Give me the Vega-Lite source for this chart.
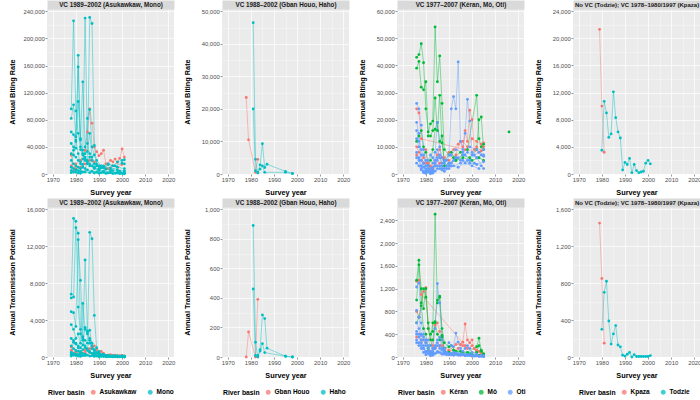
{
"$schema":"https://vega.github.io/schema/vega-lite/v6.json",
"padding":{"left":8,"top":1,"right":0,"bottom":0},
"spacing":8,
"resolve":{"scale":{"color":"independent"}},
"config":{
 "font":"Liberation Sans",
 "view":{"fill":"#EBEBEB","stroke":null},
 "axis":{"gridColor":"#FFFFFF","domain":false,"tickColor":"#333333","tickSize":2,"tickWidth":0.5,"labelColor":"#4D4D4D","labelFontSize":5.9,"labelPadding":0.8,"titleFontSize":7.3,"titleFontWeight":"bold","titleColor":"#000000"},
 "legend":{"titleFontSize":6.8,"titleFontWeight":"bold","titleColor":"#000000","labelFontSize":6.5,"labelFontWeight":"bold","labelColor":"#000000","symbolSize":12,"symbolType":"circle","columnPadding":8,"labelOffset":3,"titlePadding":5}
},
"datasets":{
"d1":[
{"b":"Asukawkaw","s":"A1","y":1978,"a":28000,"t":1100},{"b":"Asukawkaw","s":"A1","y":1979,"a":5000,"t":300},{"b":"Asukawkaw","s":"A1","y":1980,"a":15000,"t":600},{"b":"Asukawkaw","s":"A1","y":1982,"a":20000,"t":500},{"b":"Asukawkaw","s":"A1","y":1984,"a":35000,"t":700},{"b":"Asukawkaw","s":"A1","y":1985,"a":62000,"t":800},{"b":"Asukawkaw","s":"A1","y":1986,"a":96000,"t":900},{"b":"Asukawkaw","s":"A1","y":1987,"a":75000,"t":1000},{"b":"Asukawkaw","s":"A1","y":1988,"a":40000,"t":1200},{"b":"Asukawkaw","s":"A1","y":1989,"a":33000,"t":800},{"b":"Asukawkaw","s":"A1","y":1990,"a":27000,"t":500},{"b":"Asukawkaw","s":"A1","y":1991,"a":30000,"t":600},{"b":"Asukawkaw","s":"A1","y":1992,"a":35000,"t":400},{"b":"Asukawkaw","s":"A1","y":1993,"a":15000,"t":200},{"b":"Asukawkaw","s":"A1","y":1995,"a":20000,"t":250},{"b":"Asukawkaw","s":"A1","y":1996,"a":18000,"t":150},{"b":"Asukawkaw","s":"A1","y":1997,"a":22000,"t":200},{"b":"Asukawkaw","s":"A1","y":1998,"a":17000,"t":120},{"b":"Asukawkaw","s":"A1","y":1999,"a":23000,"t":150},{"b":"Asukawkaw","s":"A1","y":2000,"a":37000,"t":180},{"b":"Asukawkaw","s":"A1","y":2001,"a":25000,"t":100},
{"b":"Asukawkaw","s":"A2","y":1978,"a":12000,"t":700},{"b":"Asukawkaw","s":"A2","y":1980,"a":8000,"t":400},{"b":"Asukawkaw","s":"A2","y":1982,"a":10000,"t":300},{"b":"Asukawkaw","s":"A2","y":1984,"a":15000,"t":400},{"b":"Asukawkaw","s":"A2","y":1986,"a":20000,"t":500},{"b":"Asukawkaw","s":"A2","y":1988,"a":18000,"t":300},{"b":"Asukawkaw","s":"A2","y":1990,"a":12000,"t":200},{"b":"Asukawkaw","s":"A2","y":1992,"a":10000,"t":150},{"b":"Asukawkaw","s":"A2","y":1994,"a":8000,"t":100},{"b":"Asukawkaw","s":"A2","y":1996,"a":12000,"t":120},{"b":"Asukawkaw","s":"A2","y":1998,"a":10000,"t":80},{"b":"Asukawkaw","s":"A2","y":2000,"a":14000,"t":100},
{"b":"Mono","s":"M1","y":1978,"a":96000,"t":6800},{"b":"Mono","s":"M1","y":1979,"a":226000,"t":15000},{"b":"Mono","s":"M1","y":1980,"a":93000,"t":14700},{"b":"Mono","s":"M1","y":1981,"a":60000,"t":5400},{"b":"Mono","s":"M1","y":1982,"a":40000,"t":2500},{"b":"Mono","s":"M1","y":1983,"a":30000,"t":1800},{"b":"Mono","s":"M1","y":1984,"a":22000,"t":1200},{"b":"Mono","s":"M1","y":1985,"a":18000,"t":900},{"b":"Mono","s":"M1","y":1986,"a":12000,"t":600},{"b":"Mono","s":"M1","y":1988,"a":9000,"t":300},{"b":"Mono","s":"M1","y":1990,"a":6000,"t":150},{"b":"Mono","s":"M1","y":1992,"a":4000,"t":80},{"b":"Mono","s":"M1","y":1995,"a":3000,"t":40},{"b":"Mono","s":"M1","y":1998,"a":2500,"t":30},{"b":"Mono","s":"M1","y":2001,"a":2000,"t":20},
{"b":"Mono","s":"M2","y":1978,"a":82000,"t":6400},{"b":"Mono","s":"M2","y":1979,"a":102000,"t":6500},{"b":"Mono","s":"M2","y":1980,"a":55000,"t":14000},{"b":"Mono","s":"M2","y":1981,"a":175000,"t":13400},{"b":"Mono","s":"M2","y":1982,"a":50000,"t":3000},{"b":"Mono","s":"M2","y":1983,"a":35000,"t":2000},{"b":"Mono","s":"M2","y":1984,"a":230000,"t":10500},{"b":"Mono","s":"M2","y":1985,"a":45000,"t":2800},{"b":"Mono","s":"M2","y":1986,"a":30000,"t":1500},{"b":"Mono","s":"M2","y":1987,"a":20000,"t":900},{"b":"Mono","s":"M2","y":1989,"a":12000,"t":400},{"b":"Mono","s":"M2","y":1991,"a":9000,"t":200},{"b":"Mono","s":"M2","y":1993,"a":7000,"t":100},{"b":"Mono","s":"M2","y":1996,"a":5000,"t":60},{"b":"Mono","s":"M2","y":1999,"a":4000,"t":40},{"b":"Mono","s":"M2","y":2001,"a":3000,"t":30},
{"b":"Mono","s":"M3","y":1978,"a":62000,"t":4900},{"b":"Mono","s":"M3","y":1979,"a":58000,"t":4800},{"b":"Mono","s":"M3","y":1980,"a":48000,"t":3300},{"b":"Mono","s":"M3","y":1981,"a":158000,"t":12700},{"b":"Mono","s":"M3","y":1982,"a":36000,"t":8300},{"b":"Mono","s":"M3","y":1983,"a":28000,"t":2200},{"b":"Mono","s":"M3","y":1984,"a":20000,"t":1800},{"b":"Mono","s":"M3","y":1985,"a":15000,"t":1500},{"b":"Mono","s":"M3","y":1986,"a":231000,"t":13500},{"b":"Mono","s":"M3","y":1987,"a":222000,"t":12800},{"b":"Mono","s":"M3","y":1988,"a":42000,"t":4500},{"b":"Mono","s":"M3","y":1989,"a":15000,"t":1000},{"b":"Mono","s":"M3","y":1990,"a":12000,"t":600},{"b":"Mono","s":"M3","y":1992,"a":10000,"t":300},{"b":"Mono","s":"M3","y":1994,"a":15000,"t":200},{"b":"Mono","s":"M3","y":1996,"a":12000,"t":150},{"b":"Mono","s":"M3","y":1998,"a":18000,"t":150},{"b":"Mono","s":"M3","y":2000,"a":20000,"t":120},{"b":"Mono","s":"M3","y":2001,"a":21000,"t":100},
{"b":"Mono","s":"M4","y":1978,"a":45000,"t":3500},{"b":"Mono","s":"M4","y":1979,"a":40000,"t":3000},{"b":"Mono","s":"M4","y":1980,"a":38000,"t":2000},{"b":"Mono","s":"M4","y":1981,"a":107000,"t":2500},{"b":"Mono","s":"M4","y":1982,"a":52000,"t":1500},{"b":"Mono","s":"M4","y":1983,"a":136000,"t":5800},{"b":"Mono","s":"M4","y":1984,"a":40000,"t":3000},{"b":"Mono","s":"M4","y":1985,"a":33000,"t":2500},{"b":"Mono","s":"M4","y":1986,"a":60000,"t":2900},{"b":"Mono","s":"M4","y":1987,"a":25000,"t":1200},{"b":"Mono","s":"M4","y":1988,"a":15000,"t":700},{"b":"Mono","s":"M4","y":1990,"a":11000,"t":400},{"b":"Mono","s":"M4","y":1992,"a":9000,"t":250},{"b":"Mono","s":"M4","y":1994,"a":14000,"t":180},{"b":"Mono","s":"M4","y":1997,"a":12000,"t":120},{"b":"Mono","s":"M4","y":2000,"a":16000,"t":90},{"b":"Mono","s":"M4","y":2001,"a":15000,"t":80},
{"b":"Mono","s":"M5","y":1978,"a":30000,"t":2000},{"b":"Mono","s":"M5","y":1979,"a":28000,"t":1600},{"b":"Mono","s":"M5","y":1980,"a":25000,"t":1400},{"b":"Mono","s":"M5","y":1981,"a":20000,"t":1200},{"b":"Mono","s":"M5","y":1982,"a":18000,"t":1000},{"b":"Mono","s":"M5","y":1983,"a":22000,"t":1300},{"b":"Mono","s":"M5","y":1984,"a":30000,"t":3200},{"b":"Mono","s":"M5","y":1985,"a":82000,"t":2700},{"b":"Mono","s":"M5","y":1986,"a":95000,"t":2000},{"b":"Mono","s":"M5","y":1987,"a":40000,"t":1500},{"b":"Mono","s":"M5","y":1988,"a":28000,"t":800},{"b":"Mono","s":"M5","y":1989,"a":20000,"t":500},{"b":"Mono","s":"M5","y":1991,"a":12000,"t":250},{"b":"Mono","s":"M5","y":1993,"a":8000,"t":150},{"b":"Mono","s":"M5","y":1995,"a":6000,"t":100},{"b":"Mono","s":"M5","y":1998,"a":10000,"t":80},{"b":"Mono","s":"M5","y":2001,"a":8000,"t":50},
{"b":"Mono","s":"M6","y":1978,"a":20000,"t":1200},{"b":"Mono","s":"M6","y":1979,"a":15000,"t":900},{"b":"Mono","s":"M6","y":1980,"a":12000,"t":700},{"b":"Mono","s":"M6","y":1981,"a":10000,"t":600},{"b":"Mono","s":"M6","y":1982,"a":8000,"t":400},{"b":"Mono","s":"M6","y":1983,"a":14000,"t":800},{"b":"Mono","s":"M6","y":1984,"a":25000,"t":1000},{"b":"Mono","s":"M6","y":1985,"a":20000,"t":700},{"b":"Mono","s":"M6","y":1986,"a":15000,"t":500},{"b":"Mono","s":"M6","y":1987,"a":12000,"t":400},{"b":"Mono","s":"M6","y":1988,"a":8000,"t":300},{"b":"Mono","s":"M6","y":1990,"a":5000,"t":150},{"b":"Mono","s":"M6","y":1992,"a":3000,"t":80},{"b":"Mono","s":"M6","y":1995,"a":2000,"t":40},{"b":"Mono","s":"M6","y":1998,"a":1500,"t":30},{"b":"Mono","s":"M6","y":2001,"a":1200,"t":20},
{"b":"Mono","s":"M7","y":1978,"a":10000,"t":500},{"b":"Mono","s":"M7","y":1979,"a":8000,"t":400},{"b":"Mono","s":"M7","y":1980,"a":6000,"t":300},{"b":"Mono","s":"M7","y":1981,"a":5000,"t":250},{"b":"Mono","s":"M7","y":1982,"a":4000,"t":200},{"b":"Mono","s":"M7","y":1983,"a":3000,"t":150},{"b":"Mono","s":"M7","y":1985,"a":6000,"t":200},{"b":"Mono","s":"M7","y":1987,"a":4000,"t":150},{"b":"Mono","s":"M7","y":1989,"a":3000,"t":100},{"b":"Mono","s":"M7","y":1991,"a":2000,"t":60},{"b":"Mono","s":"M7","y":1994,"a":1500,"t":40},{"b":"Mono","s":"M7","y":1997,"a":1000,"t":20},{"b":"Mono","s":"M7","y":2000,"a":800,"t":10},
{"b":"Mono","s":"M8","y":1978,"a":5000,"t":300},{"b":"Mono","s":"M8","y":1979,"a":35000,"t":1800},{"b":"Mono","s":"M8","y":1980,"a":50000,"t":1500},{"b":"Mono","s":"M8","y":1981,"a":30000,"t":1000},{"b":"Mono","s":"M8","y":1982,"a":15000,"t":600},{"b":"Mono","s":"M8","y":1983,"a":10000,"t":400},{"b":"Mono","s":"M8","y":1984,"a":8000,"t":300},{"b":"Mono","s":"M8","y":1986,"a":25000,"t":1800},{"b":"Mono","s":"M8","y":1988,"a":10000,"t":500},{"b":"Mono","s":"M8","y":1990,"a":7000,"t":200},{"b":"Mono","s":"M8","y":1992,"a":12000,"t":150},{"b":"Mono","s":"M8","y":1995,"a":9000,"t":100},{"b":"Mono","s":"M8","y":1998,"a":6000,"t":60},{"b":"Mono","s":"M8","y":2001,"a":5000,"t":40},
{"b":"Mono","s":"M9","y":1978,"a":2000,"t":100},{"b":"Mono","s":"M9","y":1979,"a":3000,"t":200},{"b":"Mono","s":"M9","y":1980,"a":2500,"t":150},{"b":"Mono","s":"M9","y":1981,"a":1500,"t":100},{"b":"Mono","s":"M9","y":1982,"a":1000,"t":60},{"b":"Mono","s":"M9","y":1984,"a":3000,"t":150},{"b":"Mono","s":"M9","y":1986,"a":2000,"t":100},{"b":"Mono","s":"M9","y":1988,"a":1500,"t":60},{"b":"Mono","s":"M9","y":1990,"a":1000,"t":30},{"b":"Mono","s":"M9","y":1993,"a":800,"t":20},{"b":"Mono","s":"M9","y":1996,"a":600,"t":10},{"b":"Mono","s":"M9","y":1999,"a":500,"t":10},{"b":"Mono","s":"M9","y":2001,"a":400,"t":5}
],
"d2":[
{"b":"Gban Houo","s":"G1","y":1978,"a":23500,"t":0},{"b":"Gban Houo","s":"G1","y":1979,"a":10500,"t":170},{"b":"Gban Houo","s":"G1","y":1982,"a":500,"t":0},{"b":"Gban Houo","s":"G1","y":1983,"a":4500,"t":390},
{"b":"Haho","s":"H1","y":1981,"a":46500,"t":890},{"b":"Haho","s":"H1","y":1982,"a":4500,"t":100},{"b":"Haho","s":"H1","y":1983,"a":300,"t":0},{"b":"Haho","s":"H1","y":1984,"a":2800,"t":50},{"b":"Haho","s":"H1","y":1985,"a":9300,"t":285},{"b":"Haho","s":"H1","y":1986,"a":2000,"t":260},{"b":"Haho","s":"H1","y":1987,"a":3000,"t":60},{"b":"Haho","s":"H1","y":1995,"a":800,"t":5},{"b":"Haho","s":"H1","y":1998,"a":200,"t":0},
{"b":"Haho","s":"H2","y":1981,"a":20000,"t":460},{"b":"Haho","s":"H2","y":1982,"a":1000,"t":10},{"b":"Haho","s":"H2","y":1983,"a":500,"t":10},{"b":"Haho","s":"H2","y":1984,"a":1500,"t":40},{"b":"Haho","s":"H2","y":1985,"a":2500,"t":90},{"b":"Haho","s":"H2","y":1986,"a":500,"t":30},{"b":"Haho","s":"H2","y":1995,"a":500,"t":5},{"b":"Haho","s":"H2","y":1998,"a":100,"t":0}
],
"d3":[
{"b":"Kéran","s":"K1","y":1976,"a":24000,"t":1330},{"b":"Kéran","s":"K1","y":1977,"a":22500,"t":1350},{"b":"Kéran","s":"K1","y":1978,"a":13000,"t":1100},{"b":"Kéran","s":"K1","y":1997,"a":9000,"t":200},{"b":"Kéran","s":"K1","y":2003,"a":8000,"t":100},{"b":"Kéran","s":"K1","y":2005,"a":11500,"t":30},
{"b":"Kéran","s":"K2","y":1976,"a":10000,"t":800},{"b":"Kéran","s":"K2","y":1977,"a":8000,"t":700},{"b":"Kéran","s":"K2","y":1979,"a":6000,"t":1150},{"b":"Kéran","s":"K2","y":1980,"a":9000,"t":1220},{"b":"Kéran","s":"K2","y":1981,"a":4000,"t":500},{"b":"Kéran","s":"K2","y":1982,"a":3000,"t":300},{"b":"Kéran","s":"K2","y":1983,"a":2000,"t":200},{"b":"Kéran","s":"K2","y":1984,"a":5000,"t":560},{"b":"Kéran","s":"K2","y":1985,"a":7000,"t":600},{"b":"Kéran","s":"K2","y":1986,"a":9000,"t":450},{"b":"Kéran","s":"K2","y":1987,"a":6000,"t":200},{"b":"Kéran","s":"K2","y":1990,"a":5000,"t":120},{"b":"Kéran","s":"K2","y":1993,"a":7000,"t":220},{"b":"Kéran","s":"K2","y":1995,"a":12000,"t":220},{"b":"Kéran","s":"K2","y":1996,"a":10000,"t":260},{"b":"Kéran","s":"K2","y":1997,"a":16000,"t":580},{"b":"Kéran","s":"K2","y":1998,"a":12000,"t":300},{"b":"Kéran","s":"K2","y":1999,"a":23500,"t":250},{"b":"Kéran","s":"K2","y":2000,"a":20000,"t":300},{"b":"Kéran","s":"K2","y":2001,"a":9000,"t":150},{"b":"Kéran","s":"K2","y":2002,"a":10000,"t":120},{"b":"Kéran","s":"K2","y":2004,"a":8500,"t":60},{"b":"Kéran","s":"K2","y":2005,"a":10000,"t":20},
{"b":"Kéran","s":"K3","y":1976,"a":7000,"t":350},{"b":"Kéran","s":"K3","y":1978,"a":5000,"t":300},{"b":"Kéran","s":"K3","y":1980,"a":4000,"t":250},{"b":"Kéran","s":"K3","y":1982,"a":2000,"t":100},{"b":"Kéran","s":"K3","y":1984,"a":3000,"t":150},{"b":"Kéran","s":"K3","y":1986,"a":4000,"t":200},{"b":"Kéran","s":"K3","y":1988,"a":6000,"t":150},{"b":"Kéran","s":"K3","y":1990,"a":8000,"t":100},{"b":"Kéran","s":"K3","y":1992,"a":9000,"t":120},{"b":"Kéran","s":"K3","y":1994,"a":11000,"t":150},{"b":"Kéran","s":"K3","y":1996,"a":12000,"t":200},{"b":"Kéran","s":"K3","y":1998,"a":10000,"t":150},{"b":"Kéran","s":"K3","y":2000,"a":13000,"t":200},{"b":"Kéran","s":"K3","y":2002,"a":12000,"t":100},{"b":"Kéran","s":"K3","y":2004,"a":11000,"t":60},
{"b":"Mô","s":"Mo1","y":1976,"a":43000,"t":1350},{"b":"Mô","s":"Mo1","y":1977,"a":44000,"t":1700},{"b":"Mô","s":"Mo1","y":1978,"a":48000,"t":950},{"b":"Mô","s":"Mo1","y":1979,"a":41000,"t":1200},{"b":"Mô","s":"Mo1","y":1980,"a":24000,"t":1050},{"b":"Mô","s":"Mo1","y":1981,"a":15500,"t":600},{"b":"Mô","s":"Mo1","y":1982,"a":18500,"t":400},{"b":"Mô","s":"Mo1","y":1983,"a":19500,"t":450},{"b":"Mô","s":"Mo1","y":1984,"a":54200,"t":2510},{"b":"Mô","s":"Mo1","y":1985,"a":34000,"t":950},{"b":"Mô","s":"Mo1","y":1986,"a":43500,"t":1070},{"b":"Mô","s":"Mo1","y":1987,"a":26000,"t":500},{"b":"Mô","s":"Mo1","y":1988,"a":9000,"t":250},{"b":"Mô","s":"Mo1","y":1990,"a":7000,"t":180},{"b":"Mô","s":"Mo1","y":1992,"a":6000,"t":120},{"b":"Mô","s":"Mo1","y":1995,"a":8000,"t":100},{"b":"Mô","s":"Mo1","y":1998,"a":9000,"t":80},{"b":"Mô","s":"Mo1","y":2002,"a":29000,"t":180},{"b":"Mô","s":"Mo1","y":2003,"a":13000,"t":330},{"b":"Mô","s":"Mo1","y":2004,"a":10000,"t":100},{"b":"Mô","s":"Mo1","y":2005,"a":11000,"t":60},
{"b":"Mô","s":"Mo2","y":1976,"a":39000,"t":1000},{"b":"Mô","s":"Mo2","y":1977,"a":41500,"t":1620},{"b":"Mô","s":"Mo2","y":1978,"a":32000,"t":1200},{"b":"Mô","s":"Mo2","y":1979,"a":31000,"t":850},{"b":"Mô","s":"Mo2","y":1980,"a":34000,"t":1200},{"b":"Mô","s":"Mo2","y":1981,"a":14000,"t":500},{"b":"Mô","s":"Mo2","y":1982,"a":14000,"t":300},{"b":"Mô","s":"Mo2","y":1983,"a":16000,"t":600},{"b":"Mô","s":"Mo2","y":1984,"a":28000,"t":620},{"b":"Mô","s":"Mo2","y":1985,"a":16000,"t":1000},{"b":"Mô","s":"Mo2","y":1986,"a":29000,"t":1050},{"b":"Mô","s":"Mo2","y":1987,"a":11500,"t":380},{"b":"Mô","s":"Mo2","y":1988,"a":5000,"t":150},{"b":"Mô","s":"Mo2","y":1991,"a":8000,"t":200},{"b":"Mô","s":"Mo2","y":1993,"a":5000,"t":100},{"b":"Mô","s":"Mo2","y":1996,"a":7000,"t":80},{"b":"Mô","s":"Mo2","y":1999,"a":6000,"t":60},{"b":"Mô","s":"Mo2","y":2002,"a":9000,"t":80},{"b":"Mô","s":"Mo2","y":2003,"a":20000,"t":200},{"b":"Mô","s":"Mo2","y":2004,"a":21000,"t":120},{"b":"Mô","s":"Mo2","y":2005,"a":9000,"t":40},
{"b":"Mô","s":"Mo3","y":1976,"a":12000,"t":600},{"b":"Mô","s":"Mo3","y":1977,"a":14000,"t":700},{"b":"Mô","s":"Mo3","y":1978,"a":16000,"t":900},{"b":"Mô","s":"Mo3","y":1979,"a":10000,"t":500},{"b":"Mô","s":"Mo3","y":1980,"a":8000,"t":400},{"b":"Mô","s":"Mo3","y":1981,"a":3000,"t":150},{"b":"Mô","s":"Mo3","y":1982,"a":5000,"t":200},{"b":"Mô","s":"Mo3","y":1983,"a":9000,"t":300},{"b":"Mô","s":"Mo3","y":1984,"a":16500,"t":600},{"b":"Mô","s":"Mo3","y":1985,"a":19000,"t":400},{"b":"Mô","s":"Mo3","y":1986,"a":12000,"t":300},{"b":"Mô","s":"Mo3","y":1987,"a":14000,"t":350},{"b":"Mô","s":"Mo3","y":1988,"a":3000,"t":100},{"b":"Mô","s":"Mo3","y":1990,"a":4000,"t":80},{"b":"Mô","s":"Mo3","y":1993,"a":5000,"t":60},{"b":"Mô","s":"Mo3","y":1996,"a":6000,"t":50},{"b":"Mô","s":"Mo3","y":2000,"a":5000,"t":40},{"b":"Mô","s":"Mo3","y":2003,"a":6000,"t":30},{"b":"Mô","s":"Mo3","y":2005,"a":5000,"t":20},
{"b":"Mô","s":"Mo4","y":2016,"a":15500},
{"b":"Oti","s":"O1","y":1976,"a":26000,"t":1230},{"b":"Oti","s":"O1","y":1977,"a":24000,"t":1300},{"b":"Oti","s":"O1","y":1978,"a":18000,"t":600},{"b":"Oti","s":"O1","y":1979,"a":9000,"t":400},{"b":"Oti","s":"O1","y":1980,"a":5000,"t":300},{"b":"Oti","s":"O1","y":1981,"a":3000,"t":200},{"b":"Oti","s":"O1","y":1982,"a":2000,"t":100},{"b":"Oti","s":"O1","y":1983,"a":4000,"t":150},{"b":"Oti","s":"O1","y":1984,"a":8000,"t":500},{"b":"Oti","s":"O1","y":1985,"a":19000,"t":1290},{"b":"Oti","s":"O1","y":1986,"a":10000,"t":950},{"b":"Oti","s":"O1","y":1987,"a":6000,"t":300},{"b":"Oti","s":"O1","y":1988,"a":4000,"t":150},{"b":"Oti","s":"O1","y":1990,"a":7000,"t":250},{"b":"Oti","s":"O1","y":1991,"a":24000,"t":200},{"b":"Oti","s":"O1","y":1992,"a":28500,"t":180},{"b":"Oti","s":"O1","y":1993,"a":24000,"t":420},{"b":"Oti","s":"O1","y":1994,"a":41300,"t":260},{"b":"Oti","s":"O1","y":1995,"a":12000,"t":150},{"b":"Oti","s":"O1","y":1996,"a":9000,"t":100},{"b":"Oti","s":"O1","y":1997,"a":15000,"t":150},{"b":"Oti","s":"O1","y":1998,"a":27500,"t":200},{"b":"Oti","s":"O1","y":1999,"a":19500,"t":150},{"b":"Oti","s":"O1","y":2000,"a":8000,"t":80},{"b":"Oti","s":"O1","y":2002,"a":6000,"t":50},{"b":"Oti","s":"O1","y":2004,"a":7000,"t":30},{"b":"Oti","s":"O1","y":2005,"a":6500,"t":20},
{"b":"Oti","s":"O2","y":1976,"a":19000,"t":820},{"b":"Oti","s":"O2","y":1977,"a":15000,"t":700},{"b":"Oti","s":"O2","y":1978,"a":7000,"t":400},{"b":"Oti","s":"O2","y":1979,"a":4000,"t":300},{"b":"Oti","s":"O2","y":1980,"a":2000,"t":200},{"b":"Oti","s":"O2","y":1981,"a":1000,"t":100},{"b":"Oti","s":"O2","y":1982,"a":500,"t":50},{"b":"Oti","s":"O2","y":1983,"a":1500,"t":80},{"b":"Oti","s":"O2","y":1984,"a":3000,"t":150},{"b":"Oti","s":"O2","y":1985,"a":5000,"t":200},{"b":"Oti","s":"O2","y":1986,"a":3000,"t":150},{"b":"Oti","s":"O2","y":1988,"a":2000,"t":80},{"b":"Oti","s":"O2","y":1990,"a":3000,"t":60},{"b":"Oti","s":"O2","y":1992,"a":5000,"t":80},{"b":"Oti","s":"O2","y":1994,"a":6000,"t":60},{"b":"Oti","s":"O2","y":1996,"a":7000,"t":50},{"b":"Oti","s":"O2","y":1998,"a":8000,"t":40},{"b":"Oti","s":"O2","y":2000,"a":7000,"t":30},{"b":"Oti","s":"O2","y":2002,"a":6000,"t":20},{"b":"Oti","s":"O2","y":2005,"a":2000,"t":10},
{"b":"Oti","s":"O3","y":1976,"a":8000,"t":400},{"b":"Oti","s":"O3","y":1977,"a":6000,"t":350},{"b":"Oti","s":"O3","y":1978,"a":3000,"t":250},{"b":"Oti","s":"O3","y":1979,"a":1000,"t":150},{"b":"Oti","s":"O3","y":1980,"a":500,"t":80},{"b":"Oti","s":"O3","y":1981,"a":2000,"t":100},{"b":"Oti","s":"O3","y":1982,"a":1000,"t":60},{"b":"Oti","s":"O3","y":1983,"a":300,"t":30},{"b":"Oti","s":"O3","y":1985,"a":2000,"t":80},{"b":"Oti","s":"O3","y":1987,"a":1500,"t":50},{"b":"Oti","s":"O3","y":1989,"a":3000,"t":40},{"b":"Oti","s":"O3","y":1991,"a":4000,"t":50},{"b":"Oti","s":"O3","y":1993,"a":6000,"t":60},{"b":"Oti","s":"O3","y":1995,"a":5000,"t":40},{"b":"Oti","s":"O3","y":1997,"a":7000,"t":40},{"b":"Oti","s":"O3","y":1999,"a":5000,"t":30},{"b":"Oti","s":"O3","y":2001,"a":7000,"t":20},{"b":"Oti","s":"O3","y":2003,"a":8000,"t":15},{"b":"Oti","s":"O3","y":2005,"a":9000,"t":10},
{"b":"Oti","s":"O4","y":1976,"a":4000,"t":250},{"b":"Oti","s":"O4","y":1977,"a":3000,"t":200},{"b":"Oti","s":"O4","y":1978,"a":1500,"t":150},{"b":"Oti","s":"O4","y":1979,"a":500,"t":80},{"b":"Oti","s":"O4","y":1980,"a":200,"t":40},{"b":"Oti","s":"O4","y":1982,"a":100,"t":20},{"b":"Oti","s":"O4","y":1984,"a":1000,"t":60},{"b":"Oti","s":"O4","y":1986,"a":2000,"t":80},{"b":"Oti","s":"O4","y":1988,"a":1000,"t":50},{"b":"Oti","s":"O4","y":1990,"a":2000,"t":40},{"b":"Oti","s":"O4","y":1992,"a":3000,"t":30},{"b":"Oti","s":"O4","y":1995,"a":4000,"t":30},{"b":"Oti","s":"O4","y":1998,"a":5000,"t":25},{"b":"Oti","s":"O4","y":2001,"a":4000,"t":15},{"b":"Oti","s":"O4","y":2004,"a":3000,"t":10},
{"b":"Oti","s":"O5","y":1976,"a":13000,"t":600},{"b":"Oti","s":"O5","y":1977,"a":10000,"t":500},{"b":"Oti","s":"O5","y":1978,"a":5000,"t":300},{"b":"Oti","s":"O5","y":1979,"a":2500,"t":200},{"b":"Oti","s":"O5","y":1980,"a":1500,"t":100},{"b":"Oti","s":"O5","y":1981,"a":800,"t":60},{"b":"Oti","s":"O5","y":1983,"a":1000,"t":50},{"b":"Oti","s":"O5","y":1985,"a":3000,"t":100},{"b":"Oti","s":"O5","y":1987,"a":2000,"t":60},{"b":"Oti","s":"O5","y":1990,"a":4000,"t":50},{"b":"Oti","s":"O5","y":1993,"a":6000,"t":50},{"b":"Oti","s":"O5","y":1996,"a":5000,"t":40},{"b":"Oti","s":"O5","y":1999,"a":4000,"t":30},{"b":"Oti","s":"O5","y":2002,"a":3500,"t":20},{"b":"Oti","s":"O5","y":2005,"a":4500,"t":10},
{"b":"Oti","s":"O6","y":1976,"a":6000,"t":300},{"b":"Oti","s":"O6","y":1977,"a":5000,"t":250},{"b":"Oti","s":"O6","y":1978,"a":2000,"t":200},{"b":"Oti","s":"O6","y":1979,"a":4000,"t":150},{"b":"Oti","s":"O6","y":1980,"a":1000,"t":100},{"b":"Oti","s":"O6","y":1981,"a":3000,"t":150},{"b":"Oti","s":"O6","y":1982,"a":1500,"t":80},{"b":"Oti","s":"O6","y":1983,"a":2500,"t":100},{"b":"Oti","s":"O6","y":1984,"a":4000,"t":200},{"b":"Oti","s":"O6","y":1985,"a":6000,"t":300},{"b":"Oti","s":"O6","y":1986,"a":7000,"t":350},{"b":"Oti","s":"O6","y":1987,"a":3000,"t":150},{"b":"Oti","s":"O6","y":1988,"a":5000,"t":120},{"b":"Oti","s":"O6","y":1989,"a":2000,"t":60},{"b":"Oti","s":"O6","y":1991,"a":3000,"t":40},{"b":"Oti","s":"O6","y":1994,"a":2500,"t":30},{"b":"Oti","s":"O6","y":1997,"a":4000,"t":20},{"b":"Oti","s":"O6","y":2000,"a":3000,"t":15},{"b":"Oti","s":"O6","y":2003,"a":2000,"t":10},
{"b":"Oti","s":"O7","y":1976,"a":16000,"t":450},{"b":"Oti","s":"O7","y":1977,"a":12000,"t":400},{"b":"Oti","s":"O7","y":1978,"a":9000,"t":380},{"b":"Oti","s":"O7","y":1979,"a":7000,"t":350},{"b":"Oti","s":"O7","y":1980,"a":3000,"t":250},{"b":"Oti","s":"O7","y":1981,"a":5000,"t":300},{"b":"Oti","s":"O7","y":1982,"a":7000,"t":200},{"b":"Oti","s":"O7","y":1983,"a":6000,"t":150},{"b":"Oti","s":"O7","y":1984,"a":5000,"t":180},{"b":"Oti","s":"O7","y":1985,"a":9000,"t":250},{"b":"Oti","s":"O7","y":1986,"a":6000,"t":200},{"b":"Oti","s":"O7","y":1987,"a":4000,"t":120},{"b":"Oti","s":"O7","y":1989,"a":5000,"t":80},{"b":"Oti","s":"O7","y":1991,"a":7000,"t":60},{"b":"Oti","s":"O7","y":1993,"a":9000,"t":70},{"b":"Oti","s":"O7","y":1996,"a":8000,"t":50},{"b":"Oti","s":"O7","y":1999,"a":10000,"t":40},{"b":"Oti","s":"O7","y":2002,"a":9000,"t":30},{"b":"Oti","s":"O7","y":2005,"a":7000,"t":20}
],
"d4":[
{"b":"Kpaza","s":"P1","y":1979,"a":21300,"t":1450},{"b":"Kpaza","s":"P1","y":1980,"a":10000,"t":850},{"b":"Kpaza","s":"P1","y":1981,"a":3200,"t":150},
{"b":"Todzie","s":"T1","y":1980,"a":3500,"t":300},{"b":"Todzie","s":"T1","y":1981,"a":10700,"t":700},{"b":"Todzie","s":"T1","y":1982,"a":9000,"t":820},{"b":"Todzie","s":"T1","y":1983,"a":5400,"t":390},{"b":"Todzie","s":"T1","y":1984,"a":5900,"t":140},{"b":"Todzie","s":"T1","y":1985,"a":12100,"t":250},{"b":"Todzie","s":"T1","y":1986,"a":8300,"t":340},{"b":"Todzie","s":"T1","y":1987,"a":6200,"t":130},{"b":"Todzie","s":"T1","y":1988,"a":5300,"t":110},{"b":"Todzie","s":"T1","y":1989,"a":600,"t":20},{"b":"Todzie","s":"T1","y":1990,"a":1700,"t":10},{"b":"Todzie","s":"T1","y":1991,"a":1400,"t":30},{"b":"Todzie","s":"T1","y":1992,"a":2300,"t":50},{"b":"Todzie","s":"T1","y":1993,"a":200,"t":0},{"b":"Todzie","s":"T1","y":1994,"a":1400,"t":25},{"b":"Todzie","s":"T1","y":1995,"a":500,"t":5},{"b":"Todzie","s":"T1","y":1996,"a":200,"t":5},{"b":"Todzie","s":"T1","y":1997,"a":300,"t":5},{"b":"Todzie","s":"T1","y":1998,"a":400,"t":5},{"b":"Todzie","s":"T1","y":1999,"a":1600,"t":5},{"b":"Todzie","s":"T1","y":2000,"a":2000,"t":5},{"b":"Todzie","s":"T1","y":2001,"a":1500,"t":15}
]
},
"hconcat":[
{"spacing":3,"resolve":{"scale":{"color":"independent"}},"vconcat":[
 {"width":127,"height":165,"data":{"name":"d1"},"resolve":{"axis":{"x":"independent"}},"layer":[
  {"mark":{"type":"line","strokeWidth":0.6,"opacity":0.75},"encoding":{
   "x":{"field":"y","type":"quantitative","scale":{"domain":[1967.5,2022.5],"nice":false,"zero":false},"axis":{"orient":"bottom","values":[1970,1975,1980,1985,1990,1995,2000,2005,2010,2015,2020],"labelExpr":"datum.value % 10 === 0 ? format(datum.value, 'd') : ''","gridWidth":{"condition":{"test":"datum.value % 10 !== 0","value":0.3},"value":0.7},"tickOpacity":{"condition":{"test":"datum.value % 10 !== 0","value":0},"value":1},"title":"Survey year","titlePadding":6}},
   "y":{"field":"a","type":"quantitative","title":"Annual Biting Rate","scale":{"domain":[0,243400],"nice":false},"axis":{"values":[0,20000,40000,60000,80000,100000,120000,140000,160000,180000,200000,220000,240000],"labelExpr":"datum.value % 40000 === 0 ? format(datum.value, ',') : ''","gridWidth":{"condition":{"test":"datum.value % 40000 !== 0","value":0.3},"value":0.7},"tickOpacity":{"condition":{"test":"datum.value % 40000 !== 0","value":0},"value":1},"minExtent":28,"maxExtent":28,"titlePadding":3}},
   "color":{"field":"b","type":"nominal","scale":{"domain":["Asukawkaw","Mono"],"range":["#F8766D","#00BFC4"]},"legend":null},
   "detail":{"field":"s"}}},
  {"mark":{"type":"point","filled":true,"size":8,"opacity":1},"encoding":{
   "x":{"field":"y","type":"quantitative","axis":{"orient":"top","title":"VC 1989–2002 (Asukawkaw, Mono)","domain":true,"domainColor":"#D9D9D9","domainWidth":9,"offset":4.5,"ticks":false,"labels":false,"grid":false,"titleFontSize":6.3,"titleFontWeight":"bold","titleColor":"#1A1A1A","titleBaseline":"middle","titleY":0,"titlePadding":0}},
   "y":{"field":"a","type":"quantitative","title":"Annual Biting Rate","axis":{"values":[0,20000,40000,60000,80000,100000,120000,140000,160000,180000,200000,220000,240000],"labelExpr":"datum.value % 40000 === 0 ? format(datum.value, ',') : ''","gridWidth":{"condition":{"test":"datum.value % 40000 !== 0","value":0.3},"value":0.7},"tickOpacity":{"condition":{"test":"datum.value % 40000 !== 0","value":0},"value":1},"minExtent":28,"maxExtent":28,"titlePadding":3}},
   "color":{"field":"b","type":"nominal","legend":null}}}
 ]},
 {"width":127,"height":150,"data":{"name":"d1"},"resolve":{"axis":{"x":"independent"}},"layer":[
  {"mark":{"type":"line","strokeWidth":0.6,"opacity":0.75},"encoding":{
   "x":{"field":"y","type":"quantitative","scale":{"domain":[1967.5,2022.5],"nice":false,"zero":false},"axis":{"orient":"bottom","values":[1970,1975,1980,1985,1990,1995,2000,2005,2010,2015,2020],"labelExpr":"datum.value % 10 === 0 ? format(datum.value, 'd') : ''","gridWidth":{"condition":{"test":"datum.value % 10 !== 0","value":0.3},"value":0.7},"tickOpacity":{"condition":{"test":"datum.value % 10 !== 0","value":0},"value":1},"title":"Survey year","titlePadding":6}},
   "y":{"field":"t","type":"quantitative","title":"Annual Transmission Potential","scale":{"domain":[0,16240],"nice":false},"axis":{"values":[0,2000,4000,6000,8000,10000,12000,14000,16000],"labelExpr":"datum.value % 4000 === 0 ? format(datum.value, ',') : ''","gridWidth":{"condition":{"test":"datum.value % 4000 !== 0","value":0.3},"value":0.7},"tickOpacity":{"condition":{"test":"datum.value % 4000 !== 0","value":0},"value":1},"minExtent":28,"maxExtent":28,"titlePadding":3}},
   "color":{"field":"b","type":"nominal","scale":{"domain":["Asukawkaw","Mono"],"range":["#F8766D","#00BFC4"]},"legend":{"orient":"none","legendX":1,"legendY":182,"direction":"horizontal","title":"River basin","titleOrient":"left"}},
   "detail":{"field":"s"}}},
  {"mark":{"type":"point","filled":true,"size":8,"opacity":1},"encoding":{
   "x":{"field":"y","type":"quantitative","axis":{"orient":"top","title":"VC 1989–2002 (Asukawkaw, Mono)","domain":true,"domainColor":"#D9D9D9","domainWidth":9,"offset":4.5,"ticks":false,"labels":false,"grid":false,"titleFontSize":6.3,"titleFontWeight":"bold","titleColor":"#1A1A1A","titleBaseline":"middle","titleY":0,"titlePadding":0}},
   "y":{"field":"t","type":"quantitative","title":"Annual Transmission Potential","axis":{"values":[0,2000,4000,6000,8000,10000,12000,14000,16000],"labelExpr":"datum.value % 4000 === 0 ? format(datum.value, ',') : ''","gridWidth":{"condition":{"test":"datum.value % 4000 !== 0","value":0.3},"value":0.7},"tickOpacity":{"condition":{"test":"datum.value % 4000 !== 0","value":0},"value":1},"minExtent":28,"maxExtent":28,"titlePadding":3}},
   "color":{"field":"b","type":"nominal","legend":{"orient":"none","legendX":1,"legendY":182,"direction":"horizontal","title":"River basin","titleOrient":"left"}}}}
 ]}
]},
{"spacing":3,"resolve":{"scale":{"color":"independent"}},"vconcat":[
 {"width":127,"height":165,"data":{"name":"d2"},"resolve":{"axis":{"x":"independent"}},"layer":[
  {"mark":{"type":"line","strokeWidth":0.6,"opacity":0.75},"encoding":{
   "x":{"field":"y","type":"quantitative","scale":{"domain":[1967.5,2022.5],"nice":false,"zero":false},"axis":{"orient":"bottom","values":[1970,1975,1980,1985,1990,1995,2000,2005,2010,2015,2020],"labelExpr":"datum.value % 10 === 0 ? format(datum.value, 'd') : ''","gridWidth":{"condition":{"test":"datum.value % 10 !== 0","value":0.3},"value":0.7},"tickOpacity":{"condition":{"test":"datum.value % 10 !== 0","value":0},"value":1},"title":"Survey year","titlePadding":6}},
   "y":{"field":"a","type":"quantitative","title":"Annual Biting Rate","scale":{"domain":[0,50700],"nice":false},"axis":{"values":[0,5000,10000,15000,20000,25000,30000,35000,40000,45000,50000],"labelExpr":"datum.value % 10000 === 0 ? format(datum.value, ',') : ''","gridWidth":{"condition":{"test":"datum.value % 10000 !== 0","value":0.3},"value":0.7},"tickOpacity":{"condition":{"test":"datum.value % 10000 !== 0","value":0},"value":1},"minExtent":28,"maxExtent":28,"titlePadding":3}},
   "color":{"field":"b","type":"nominal","scale":{"domain":["Gban Houo","Haho"],"range":["#F8766D","#00BFC4"]},"legend":null},
   "detail":{"field":"s"}}},
  {"mark":{"type":"point","filled":true,"size":8,"opacity":1},"encoding":{
   "x":{"field":"y","type":"quantitative","axis":{"orient":"top","title":"VC 1988–2002 (Gban Houo, Haho)","domain":true,"domainColor":"#D9D9D9","domainWidth":9,"offset":4.5,"ticks":false,"labels":false,"grid":false,"titleFontSize":6.3,"titleFontWeight":"bold","titleColor":"#1A1A1A","titleBaseline":"middle","titleY":0,"titlePadding":0}},
   "y":{"field":"a","type":"quantitative","title":"Annual Biting Rate","axis":{"values":[0,5000,10000,15000,20000,25000,30000,35000,40000,45000,50000],"labelExpr":"datum.value % 10000 === 0 ? format(datum.value, ',') : ''","gridWidth":{"condition":{"test":"datum.value % 10000 !== 0","value":0.3},"value":0.7},"tickOpacity":{"condition":{"test":"datum.value % 10000 !== 0","value":0},"value":1},"minExtent":28,"maxExtent":28,"titlePadding":3}},
   "color":{"field":"b","type":"nominal","legend":null}}}
 ]},
 {"width":127,"height":150,"data":{"name":"d2"},"resolve":{"axis":{"x":"independent"}},"layer":[
  {"mark":{"type":"line","strokeWidth":0.6,"opacity":0.75},"encoding":{
   "x":{"field":"y","type":"quantitative","scale":{"domain":[1967.5,2022.5],"nice":false,"zero":false},"axis":{"orient":"bottom","values":[1970,1975,1980,1985,1990,1995,2000,2005,2010,2015,2020],"labelExpr":"datum.value % 10 === 0 ? format(datum.value, 'd') : ''","gridWidth":{"condition":{"test":"datum.value % 10 !== 0","value":0.3},"value":0.7},"tickOpacity":{"condition":{"test":"datum.value % 10 !== 0","value":0},"value":1},"title":"Survey year","titlePadding":6}},
   "y":{"field":"t","type":"quantitative","title":"Annual Transmission Potential","scale":{"domain":[0,1015],"nice":false},"axis":{"values":[0,100,200,300,400,500,600,700,800,900,1000],"labelExpr":"datum.value % 200 === 0 ? format(datum.value, ',') : ''","gridWidth":{"condition":{"test":"datum.value % 200 !== 0","value":0.3},"value":0.7},"tickOpacity":{"condition":{"test":"datum.value % 200 !== 0","value":0},"value":1},"minExtent":28,"maxExtent":28,"titlePadding":3}},
   "color":{"field":"b","type":"nominal","scale":{"domain":["Gban Houo","Haho"],"range":["#F8766D","#00BFC4"]},"legend":{"orient":"none","legendX":1,"legendY":182,"direction":"horizontal","title":"River basin","titleOrient":"left"}},
   "detail":{"field":"s"}}},
  {"mark":{"type":"point","filled":true,"size":8,"opacity":1},"encoding":{
   "x":{"field":"y","type":"quantitative","axis":{"orient":"top","title":"VC 1988–2002 (Gban Houo, Haho)","domain":true,"domainColor":"#D9D9D9","domainWidth":9,"offset":4.5,"ticks":false,"labels":false,"grid":false,"titleFontSize":6.3,"titleFontWeight":"bold","titleColor":"#1A1A1A","titleBaseline":"middle","titleY":0,"titlePadding":0}},
   "y":{"field":"t","type":"quantitative","title":"Annual Transmission Potential","axis":{"values":[0,100,200,300,400,500,600,700,800,900,1000],"labelExpr":"datum.value % 200 === 0 ? format(datum.value, ',') : ''","gridWidth":{"condition":{"test":"datum.value % 200 !== 0","value":0.3},"value":0.7},"tickOpacity":{"condition":{"test":"datum.value % 200 !== 0","value":0},"value":1},"minExtent":28,"maxExtent":28,"titlePadding":3}},
   "color":{"field":"b","type":"nominal","legend":{"orient":"none","legendX":1,"legendY":182,"direction":"horizontal","title":"River basin","titleOrient":"left"}}}}
 ]}
]},
{"spacing":3,"resolve":{"scale":{"color":"independent"}},"vconcat":[
 {"width":127,"height":165,"data":{"name":"d3"},"resolve":{"axis":{"x":"independent"}},"layer":[
  {"mark":{"type":"line","strokeWidth":0.6,"opacity":0.75},"encoding":{
   "x":{"field":"y","type":"quantitative","scale":{"domain":[1967.5,2022.5],"nice":false,"zero":false},"axis":{"orient":"bottom","values":[1970,1975,1980,1985,1990,1995,2000,2005,2010,2015,2020],"labelExpr":"datum.value % 10 === 0 ? format(datum.value, 'd') : ''","gridWidth":{"condition":{"test":"datum.value % 10 !== 0","value":0.3},"value":0.7},"tickOpacity":{"condition":{"test":"datum.value % 10 !== 0","value":0},"value":1},"title":"Survey year","titlePadding":6}},
   "y":{"field":"a","type":"quantitative","title":"Annual Biting Rate","scale":{"domain":[0,60800],"nice":false},"axis":{"values":[0,5000,10000,15000,20000,25000,30000,35000,40000,45000,50000,55000,60000],"labelExpr":"datum.value % 10000 === 0 ? format(datum.value, ',') : ''","gridWidth":{"condition":{"test":"datum.value % 10000 !== 0","value":0.3},"value":0.7},"tickOpacity":{"condition":{"test":"datum.value % 10000 !== 0","value":0},"value":1},"minExtent":28,"maxExtent":28,"titlePadding":3}},
   "color":{"field":"b","type":"nominal","scale":{"domain":["Kéran","Mô","Oti"],"range":["#F8766D","#00BA38","#619CFF"]},"legend":null},
   "detail":{"field":"s"}}},
  {"mark":{"type":"point","filled":true,"size":8,"opacity":1},"encoding":{
   "x":{"field":"y","type":"quantitative","axis":{"orient":"top","title":"VC 1977–2007 (Kéran, Mô, Oti)","domain":true,"domainColor":"#D9D9D9","domainWidth":9,"offset":4.5,"ticks":false,"labels":false,"grid":false,"titleFontSize":6.3,"titleFontWeight":"bold","titleColor":"#1A1A1A","titleBaseline":"middle","titleY":0,"titlePadding":0}},
   "y":{"field":"a","type":"quantitative","title":"Annual Biting Rate","axis":{"values":[0,5000,10000,15000,20000,25000,30000,35000,40000,45000,50000,55000,60000],"labelExpr":"datum.value % 10000 === 0 ? format(datum.value, ',') : ''","gridWidth":{"condition":{"test":"datum.value % 10000 !== 0","value":0.3},"value":0.7},"tickOpacity":{"condition":{"test":"datum.value % 10000 !== 0","value":0},"value":1},"minExtent":28,"maxExtent":28,"titlePadding":3}},
   "color":{"field":"b","type":"nominal","legend":null}}}
 ]},
 {"width":127,"height":150,"data":{"name":"d3"},"resolve":{"axis":{"x":"independent"}},"layer":[
  {"mark":{"type":"line","strokeWidth":0.6,"opacity":0.75},"encoding":{
   "x":{"field":"y","type":"quantitative","scale":{"domain":[1967.5,2022.5],"nice":false,"zero":false},"axis":{"orient":"bottom","values":[1970,1975,1980,1985,1990,1995,2000,2005,2010,2015,2020],"labelExpr":"datum.value % 10 === 0 ? format(datum.value, 'd') : ''","gridWidth":{"condition":{"test":"datum.value % 10 !== 0","value":0.3},"value":0.7},"tickOpacity":{"condition":{"test":"datum.value % 10 !== 0","value":0},"value":1},"title":"Survey year","titlePadding":6}},
   "y":{"field":"t","type":"quantitative","title":"Annual Transmission Potential","scale":{"domain":[0,2636],"nice":false},"axis":{"values":[0,200,400,600,800,1000,1200,1400,1600,1800,2000,2200,2400],"labelExpr":"datum.value % 400 === 0 ? format(datum.value, ',') : ''","gridWidth":{"condition":{"test":"datum.value % 400 !== 0","value":0.3},"value":0.7},"tickOpacity":{"condition":{"test":"datum.value % 400 !== 0","value":0},"value":1},"minExtent":28,"maxExtent":28,"titlePadding":3}},
   "color":{"field":"b","type":"nominal","scale":{"domain":["Kéran","Mô","Oti"],"range":["#F8766D","#00BA38","#619CFF"]},"legend":{"orient":"none","legendX":1,"legendY":182,"direction":"horizontal","title":"River basin","titleOrient":"left"}},
   "detail":{"field":"s"}}},
  {"mark":{"type":"point","filled":true,"size":8,"opacity":1},"encoding":{
   "x":{"field":"y","type":"quantitative","axis":{"orient":"top","title":"VC 1977–2007 (Kéran, Mô, Oti)","domain":true,"domainColor":"#D9D9D9","domainWidth":9,"offset":4.5,"ticks":false,"labels":false,"grid":false,"titleFontSize":6.3,"titleFontWeight":"bold","titleColor":"#1A1A1A","titleBaseline":"middle","titleY":0,"titlePadding":0}},
   "y":{"field":"t","type":"quantitative","title":"Annual Transmission Potential","axis":{"values":[0,200,400,600,800,1000,1200,1400,1600,1800,2000,2200,2400],"labelExpr":"datum.value % 400 === 0 ? format(datum.value, ',') : ''","gridWidth":{"condition":{"test":"datum.value % 400 !== 0","value":0.3},"value":0.7},"tickOpacity":{"condition":{"test":"datum.value % 400 !== 0","value":0},"value":1},"minExtent":28,"maxExtent":28,"titlePadding":3}},
   "color":{"field":"b","type":"nominal","legend":{"orient":"none","legendX":1,"legendY":182,"direction":"horizontal","title":"River basin","titleOrient":"left"}}}}
 ]}
]},
{"spacing":3,"resolve":{"scale":{"color":"independent"}},"vconcat":[
 {"width":127,"height":165,"data":{"name":"d4"},"resolve":{"axis":{"x":"independent"}},"layer":[
  {"mark":{"type":"line","strokeWidth":0.6,"opacity":0.75},"encoding":{
   "x":{"field":"y","type":"quantitative","scale":{"domain":[1967.5,2022.5],"nice":false,"zero":false},"axis":{"orient":"bottom","values":[1970,1975,1980,1985,1990,1995,2000,2005,2010,2015,2020],"labelExpr":"datum.value % 10 === 0 ? format(datum.value, 'd') : ''","gridWidth":{"condition":{"test":"datum.value % 10 !== 0","value":0.3},"value":0.7},"tickOpacity":{"condition":{"test":"datum.value % 10 !== 0","value":0},"value":1},"title":"Survey year","titlePadding":6}},
   "y":{"field":"a","type":"quantitative","title":"Annual Biting Rate","scale":{"domain":[0,24300],"nice":false},"axis":{"values":[0,2000,4000,6000,8000,10000,12000,14000,16000,18000,20000,22000,24000],"labelExpr":"datum.value % 4000 === 0 ? format(datum.value, ',') : ''","gridWidth":{"condition":{"test":"datum.value % 4000 !== 0","value":0.3},"value":0.7},"tickOpacity":{"condition":{"test":"datum.value % 4000 !== 0","value":0},"value":1},"minExtent":28,"maxExtent":28,"titlePadding":3}},
   "color":{"field":"b","type":"nominal","scale":{"domain":["Kpaza","Todzie"],"range":["#F8766D","#00BFC4"]},"legend":null},
   "detail":{"field":"s"}}},
  {"mark":{"type":"point","filled":true,"size":8,"opacity":1},"encoding":{
   "x":{"field":"y","type":"quantitative","axis":{"orient":"top","title":"No VC (Todzie); VC 1978–1980/1997 (Kpaza)","domain":true,"domainColor":"#D9D9D9","domainWidth":9,"offset":4.5,"ticks":false,"labels":false,"grid":false,"titleFontSize":6,"titleFontWeight":"bold","titleColor":"#1A1A1A","titleBaseline":"middle","titleY":0,"titlePadding":0}},
   "y":{"field":"a","type":"quantitative","title":"Annual Biting Rate","axis":{"values":[0,2000,4000,6000,8000,10000,12000,14000,16000,18000,20000,22000,24000],"labelExpr":"datum.value % 4000 === 0 ? format(datum.value, ',') : ''","gridWidth":{"condition":{"test":"datum.value % 4000 !== 0","value":0.3},"value":0.7},"tickOpacity":{"condition":{"test":"datum.value % 4000 !== 0","value":0},"value":1},"minExtent":28,"maxExtent":28,"titlePadding":3}},
   "color":{"field":"b","type":"nominal","legend":null}}}
 ]},
 {"width":127,"height":150,"data":{"name":"d4"},"resolve":{"axis":{"x":"independent"}},"layer":[
  {"mark":{"type":"line","strokeWidth":0.6,"opacity":0.75},"encoding":{
   "x":{"field":"y","type":"quantitative","scale":{"domain":[1967.5,2022.5],"nice":false,"zero":false},"axis":{"orient":"bottom","values":[1970,1975,1980,1985,1990,1995,2000,2005,2010,2015,2020],"labelExpr":"datum.value % 10 === 0 ? format(datum.value, 'd') : ''","gridWidth":{"condition":{"test":"datum.value % 10 !== 0","value":0.3},"value":0.7},"tickOpacity":{"condition":{"test":"datum.value % 10 !== 0","value":0},"value":1},"title":"Survey year","titlePadding":6}},
   "y":{"field":"t","type":"quantitative","title":"Annual Transmission Potential","scale":{"domain":[0,1624],"nice":false},"axis":{"values":[0,200,400,600,800,1000,1200,1400,1600],"labelExpr":"datum.value % 400 === 0 ? format(datum.value, ',') : ''","gridWidth":{"condition":{"test":"datum.value % 400 !== 0","value":0.3},"value":0.7},"tickOpacity":{"condition":{"test":"datum.value % 400 !== 0","value":0},"value":1},"minExtent":28,"maxExtent":28,"titlePadding":3}},
   "color":{"field":"b","type":"nominal","scale":{"domain":["Kpaza","Todzie"],"range":["#F8766D","#00BFC4"]},"legend":{"orient":"none","legendX":6,"legendY":182,"direction":"horizontal","title":"River basin","titleOrient":"left"}},
   "detail":{"field":"s"}}},
  {"mark":{"type":"point","filled":true,"size":8,"opacity":1},"encoding":{
   "x":{"field":"y","type":"quantitative","axis":{"orient":"top","title":"No VC (Todzie); VC 1978–1980/1997 (Kpaza)","domain":true,"domainColor":"#D9D9D9","domainWidth":9,"offset":4.5,"ticks":false,"labels":false,"grid":false,"titleFontSize":6,"titleFontWeight":"bold","titleColor":"#1A1A1A","titleBaseline":"middle","titleY":0,"titlePadding":0}},
   "y":{"field":"t","type":"quantitative","title":"Annual Transmission Potential","axis":{"values":[0,200,400,600,800,1000,1200,1400,1600],"labelExpr":"datum.value % 400 === 0 ? format(datum.value, ',') : ''","gridWidth":{"condition":{"test":"datum.value % 400 !== 0","value":0.3},"value":0.7},"tickOpacity":{"condition":{"test":"datum.value % 400 !== 0","value":0},"value":1},"minExtent":28,"maxExtent":28,"titlePadding":3}},
   "color":{"field":"b","type":"nominal","legend":{"orient":"none","legendX":6,"legendY":182,"direction":"horizontal","title":"River basin","titleOrient":"left"}}}}
 ]}
]}
]
}
